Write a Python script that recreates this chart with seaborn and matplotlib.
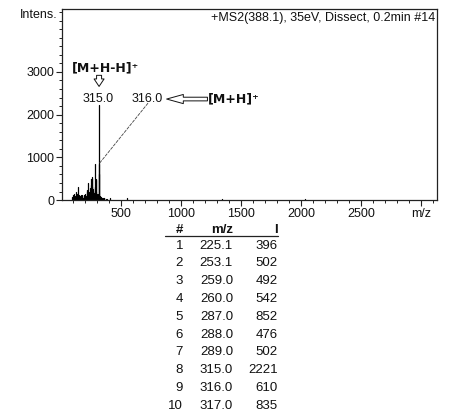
import numpy as np
import pandas as pd
import matplotlib
matplotlib.use("Agg")
import matplotlib.pyplot as plt
from matplotlib.ticker import MultipleLocator, FixedLocator
import seaborn as sns

# ---- data ----
table_mz = [225.1, 253.1, 259.0, 260.0, 287.0, 288.0, 289.0, 315.0, 316.0, 317.0]
table_I = [396, 502, 492, 542, 852, 476, 502, 2221, 610, 835]
noise_mz = [92, 98, 104, 110, 117, 123, 129, 135, 141, 147, 153, 159, 165, 171, 177,
            183, 189, 195, 201, 207, 213, 219, 231, 237, 243, 247, 256, 265, 270, 275,
            280, 284, 293, 298, 303, 309, 321, 327, 333, 340, 347, 355, 362, 372, 385,
            405, 550, 1340, 2035]
noise_I = [80, 120, 60, 150, 90, 190, 70, 140, 300, 110, 60, 90, 130, 70, 110,
           60, 120, 90, 150, 100, 180, 230, 150, 200, 280, 350, 300, 250, 200, 160,
           220, 300, 180, 140, 120, 150, 100, 80, 70, 50, 60, 40, 50, 30, 30,
           50, 40, 35, 25]
x_ticks = [500, 1000, 1500, 2000, 2500, 3000]
x_tick_labels = ["500", "1000", "1500", "2000", "2500", "m/z"]
y_ticks = [0, 1000, 2000, 3000]
title = "+MS2(388.1), 35eV, Dissect, 0.2min #14"

# ---- build stick-spectrum table ----
all_mz = list(noise_mz) + list(table_mz)
all_I = list(noise_I) + list(table_I)
rows = []
for k, (m, v) in enumerate(zip(all_mz, all_I)):
    rows.append({"peak": k, "mz": m, "I": 0})
    rows.append({"peak": k, "mz": m, "I": v})
df = pd.DataFrame(rows)

sns.set_theme(style="ticks")
plt.rcParams["font.family"] = ["Liberation Sans", "DejaVu Sans"]

W, H = 464, 411
fig = plt.figure(figsize=(W / 100, H / 100), dpi=100)
ax = fig.add_axes([62 / W, 1 - 200.5 / H, 375 / W, 191.2 / H])

sns.lineplot(data=df, x="mz", y="I", units="peak", estimator=None,
             color="black", lw=0.9, ax=ax, legend=False)

ax.set_xlim(8, 3133)
ax.set_ylim(-10, 4466)
ax.set_xlabel("")
ax.set_ylabel("")
ax.xaxis.set_major_locator(FixedLocator(x_ticks))
ax.set_xticklabels(x_tick_labels)
ax.xaxis.set_minor_locator(MultipleLocator(100))
ax.yaxis.set_major_locator(FixedLocator(y_ticks))
ax.yaxis.set_minor_locator(MultipleLocator(200))
ax.tick_params(axis="both", which="major", direction="out", length=4, width=0.8,
               labelsize=9, color="#222222", labelcolor="#111111", pad=1.5)
ax.tick_params(axis="both", which="minor", direction="out", length=2.5, width=0.7,
               color="#222222")
for s in ax.spines.values():
    s.set_visible(True)
    s.set_linewidth(0.9)
    s.set_color("#222222")

ax.text(0.995, 0.985, title, transform=ax.transAxes, ha="right", va="top",
        fontsize=9, color="#111111")
fig.text(58 / W, 1 - 15 / H, "Intens.", ha="right", va="center", fontsize=9,
         color="#111111")

# ---- annotations ----
bold = dict(family="DejaVu Sans", fontweight="bold", fontsize=9, color="#111111")
ax.text(92, 3090, "[M+H-H]\u207a", ha="left", va="center", **bold)
ax.text(table_mz[7] - 7, 2365, f"{table_mz[7]:.1f}", ha="center", va="center",
        fontsize=9, color="#111111")
ax.text(717, 2365, f"{table_mz[8]:.1f}", ha="center", va="center",
        fontsize=9, color="#111111")
ax.text(1225, 2365, "[M+H]\u207a", ha="left", va="center", **bold)

ax.annotate("", xy=(317, 2660), xytext=(317, 2920),
            arrowprops=dict(arrowstyle="simple,head_length=0.45,head_width=0.6,tail_width=0.3",
                            fc="white", ec="#111111", lw=0.7, shrinkA=0, shrinkB=0),
            annotation_clip=False)
ax.annotate("", xy=(880, 2365), xytext=(1220, 2365),
            arrowprops=dict(arrowstyle="simple,head_length=1.0,head_width=0.55,tail_width=0.22",
                            fc="white", ec="#111111", lw=0.7, shrinkA=0, shrinkB=0),
            annotation_clip=False)
ax.plot([725, table_mz[9]], [2270, 850], color="#444444", lw=0.6,
        linestyle=(0, (4, 1.2)))

# ---- peak table ----
tf = dict(fontsize=9.5, color="#111111")
fig.text(183 / W, 1 - 230 / H, "#", ha="right", va="center", fontweight="bold", **tf)
fig.text(233 / W, 1 - 230 / H, "m/z", ha="right", va="center", fontweight="bold", **tf)
fig.text(278 / W, 1 - 230 / H, "I", ha="right", va="center", fontweight="bold", **tf)
fig.add_artist(plt.Line2D([165 / W, 278 / W], [1 - 236.5 / H, 1 - 236.5 / H],
                          color="#222222", lw=0.9))
for i, (m, v) in enumerate(zip(table_mz, table_I)):
    yy = 1 - (245.5 + 17.8 * i) / H
    fig.text(183 / W, yy, str(i + 1), ha="right", va="center", **tf)
    fig.text(233 / W, yy, f"{m:.1f}", ha="right", va="center", **tf)
    fig.text(278 / W, yy, f"{v}", ha="right", va="center", **tf)

fig.savefig("out.png", dpi=100)
